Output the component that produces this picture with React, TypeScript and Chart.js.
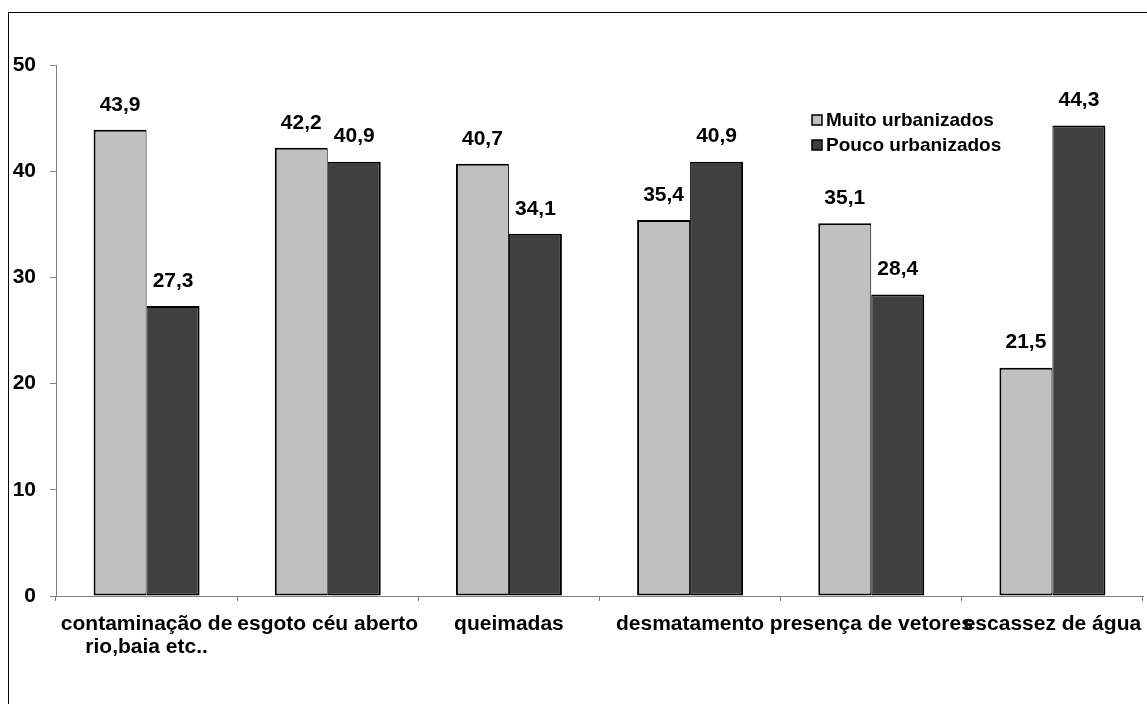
import React, { useEffect, useRef } from "react";
import { Chart, registerables } from "chart.js";

Chart.register(...registerables);

const categories: (string | string[])[] = [
  ["contaminação de", "rio,baia etc.."],
  "esgoto céu aberto",
  "queimadas",
  "desmatamento",
  "presença de vetores",
  "escassez de água",
];
const muitoUrbanizados = [43.9, 42.2, 40.7, 35.4, 35.1, 21.5];
const poucoUrbanizados = [27.3, 40.9, 34.1, 40.9, 28.4, 44.3];
const seriesNames = ["Muito urbanizados", "Pouco urbanizados"];
const yTicks = [0, 10, 20, 30, 40, 50];

const FONT = "'Liberation Sans', Arial, Helvetica, sans-serif";

const valueLabels = {
  id: "valueLabels",
  afterDatasetsDraw(chart: any) {
    const ctx = chart.ctx;
    ctx.save();
    ctx.font = `bold 21px ${FONT}`;
    ctx.fillStyle = "#000";
    ctx.textAlign = "center";
    ctx.textBaseline = "middle";
    chart.data.datasets.forEach((ds: any, i: number) => {
      const meta = chart.getDatasetMeta(i);
      meta.data.forEach((el: any, j: number) => {
        const v = ds.data[j] as number;
        ctx.fillText(v.toFixed(1).replace(".", ","), el.x, el.y - 25);
      });
    });
    ctx.restore();
  },
};

const customLegend = {
  id: "customLegend",
  afterDraw(chart: any) {
    const ctx = chart.ctx;
    ctx.save();
    ctx.font = `bold 19px ${FONT}`;
    ctx.textAlign = "left";
    ctx.textBaseline = "middle";
    const x0 = 812;
    const y0 = 120;
    chart.data.datasets.forEach((ds: any, i: number) => {
      const y = y0 + i * 25;
      ctx.fillStyle = ds.backgroundColor;
      ctx.fillRect(x0, y - 5, 10, 10);
      ctx.strokeStyle = "#000";
      ctx.lineWidth = 1.5;
      ctx.strokeRect(x0, y - 5, 10, 10);
      ctx.fillStyle = "#000";
      ctx.fillText(ds.label, x0 + 14, y + 1);
    });
    ctx.restore();
  },
};

export default function App() {
  const ref = useRef<HTMLCanvasElement | null>(null);
  useEffect(() => {
    if (!ref.current) return;
    const chart = new Chart(ref.current, {
      type: "bar",
      data: {
        labels: categories as any,
        datasets: [
          {
            label: seriesNames[0],
            data: muitoUrbanizados,
            backgroundColor: "#C0C0C0",
            borderColor: "#000000",
            borderWidth: { top: 2, left: 2, right: 1, bottom: 2 } as any,
            borderSkipped: false,
            barPercentage: 1,
            categoryPercentage: 0.585,
          },
          {
            label: seriesNames[1],
            data: poucoUrbanizados,
            backgroundColor: "#404040",
            borderColor: "#000000",
            borderWidth: { top: 2, left: 1, right: 2, bottom: 2 } as any,
            borderSkipped: false,
            barPercentage: 1,
            categoryPercentage: 0.585,
          },
        ],
      },
      options: {
        animation: false,
        responsive: false,
        maintainAspectRatio: false,
        layout: { padding: { top: 65, right: 4, left: 0, bottom: 0 } },
        plugins: {
          legend: { display: false },
          tooltip: { enabled: false },
          title: { display: false },
        },
        scales: {
          x: {
            offset: true,
            grid: {
              offset: true,
              drawOnChartArea: false,
              drawTicks: true,
              tickLength: 5,
              color: "#808080",
            },
            border: { color: "#808080", width: 1 },
            ticks: {
              autoSkip: false,
              maxRotation: 0,
              minRotation: 0,
              padding: 12,
              color: "#000",
              font: { family: FONT, size: 21, weight: "bold", lineHeight: 1.1 },
            },
            afterFit: (s: any) => {
              s.height = 108;
              s.paddingLeft = 0;
              s.paddingRight = 0;
            },
          },
          y: {
            min: 0,
            max: 50,
            afterBuildTicks: (s: any) => {
              s.ticks = yTicks.map((v) => ({ value: v }));
            },
            grid: {
              drawOnChartArea: false,
              drawTicks: true,
              tickLength: 6,
              color: "#808080",
            },
            border: { color: "#808080", width: 1 },
            ticks: {
              padding: 14,
              color: "#000",
              font: { family: FONT, size: 21, weight: "bold" },
            },
            afterFit: (s: any) => {
              s.width = 56;
              s.paddingTop = 0;
              s.paddingBottom = 0;
            },
          },
        },
      },
      plugins: [valueLabels, customLegend],
    });
    return () => chart.destroy();
  }, []);

  return (
    <div
      style={{
        position: "fixed",
        left: 0,
        top: 0,
        width: 1147,
        height: 704,
        overflow: "hidden",
        background: "#fff",
      }}
    >
      <div
        style={{
          position: "absolute",
          left: 8,
          top: 12,
          width: 1150,
          height: 720,
          border: "1px solid #000",
          boxSizing: "border-box",
        }}
      />
      <canvas
        ref={ref}
        width={1147}
        height={704}
        style={{ position: "absolute", left: 0, top: 0, width: 1147, height: 704 }}
      />
    </div>
  );
}
